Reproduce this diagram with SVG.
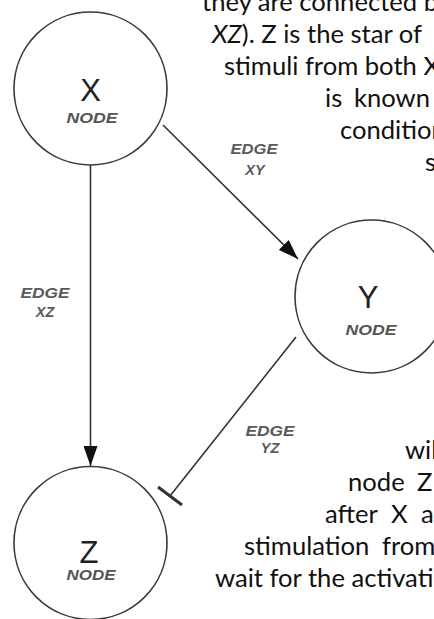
<svg xmlns="http://www.w3.org/2000/svg" width="434" height="619" viewBox="0 0 434 619">
<style>
.node{fill:#fff;stroke:#3a3a3a;stroke-width:1.6}
.big{font-family:"Liberation Sans",Arial,sans-serif;font-size:31px;fill:#222;text-anchor:middle}
.sub{font-family:"Liberation Sans",Arial,sans-serif;font-style:italic;font-weight:bold;font-size:14px;fill:#555;text-anchor:middle}
.edge{stroke:#333;stroke-width:1.6;fill:none}
.lbl{font-family:"Liberation Sans",Arial,sans-serif;font-style:italic;font-weight:bold;font-size:14.5px;fill:#5a5a5a;text-anchor:middle}
.body{font-family:Lato,"Open Sans",sans-serif;font-size:25.6px;fill:#111}
</style>
<defs>
<marker id="arr" markerUnits="userSpaceOnUse" markerWidth="20" markerHeight="14" refX="20" refY="7" orient="auto">
<path d="M0,0 L20,7 L0,14 z" fill="#111"/>
</marker>
</defs>
<rect width="434" height="619" fill="#fff"/>
<g id="text">
<text class="body" x="202" y="11">they are connected b</text>
<text class="body" x="212" y="43"><tspan font-style="italic">XZ</tspan>). Z is the star of</text>
<text class="body" x="224" y="75">stimuli from both X</text>
<text class="body" y="107"><tspan x="325">is</tspan><tspan x="354">known</tspan></text>
<text class="body" x="340" y="139">condition</text>
<text class="body" x="425" y="171">s</text>
<text class="body" x="405" y="459">wil</text>
<text class="body" y="491"><tspan x="348">node</tspan><tspan x="417">Z</tspan></text>
<text class="body" y="523"><tspan x="325">after</tspan><tspan x="391">X</tspan><tspan x="421">a</tspan></text>
<text class="body" y="555"><tspan x="244">stimulation</tspan><tspan x="382">from</tspan></text>
<text class="body" x="215" y="587">wait for the activati</text>
</g>
<g id="connectors">
<line class="edge" x1="90.5" y1="165" x2="90.5" y2="466" marker-end="url(#arr)"/>
<line class="edge" x1="163" y1="125" x2="298" y2="259" marker-end="url(#arr)"/>
<line class="edge" x1="296" y1="337" x2="170" y2="496"/>
<line x1="158" y1="487" x2="182" y2="505" stroke="#333" stroke-width="3"/>
<text class="lbl" x="254" y="154" textLength="47" lengthAdjust="spacingAndGlyphs">EDGE</text>
<text class="lbl" x="255" y="175">XY</text>
<text class="lbl" x="45" y="298" textLength="49" lengthAdjust="spacingAndGlyphs">EDGE</text>
<text class="lbl" x="45" y="317">XZ</text>
<text class="lbl" x="270" y="436" textLength="49" lengthAdjust="spacingAndGlyphs">EDGE</text>
<text class="lbl" x="270" y="453">YZ</text>
</g>
<g id="node-x">
<circle class="node" cx="90.5" cy="88.5" r="76.5"/>
<text class="big" x="90.5" y="101">X</text>
<text class="sub" x="92" y="123" textLength="51" lengthAdjust="spacingAndGlyphs">NODE</text>
</g>
<g id="node-y">
<circle class="node" cx="371.5" cy="296.5" r="76.5"/>
<text class="big" x="368" y="308">Y</text>
<text class="sub" x="371" y="335" textLength="51" lengthAdjust="spacingAndGlyphs">NODE</text>
</g>
<g id="node-z">
<circle class="node" cx="90.5" cy="543" r="76.5"/>
<text class="big" x="89" y="563">Z</text>
<text class="sub" x="91" y="580" textLength="49" lengthAdjust="spacingAndGlyphs">NODE</text>
</g>
</svg>
